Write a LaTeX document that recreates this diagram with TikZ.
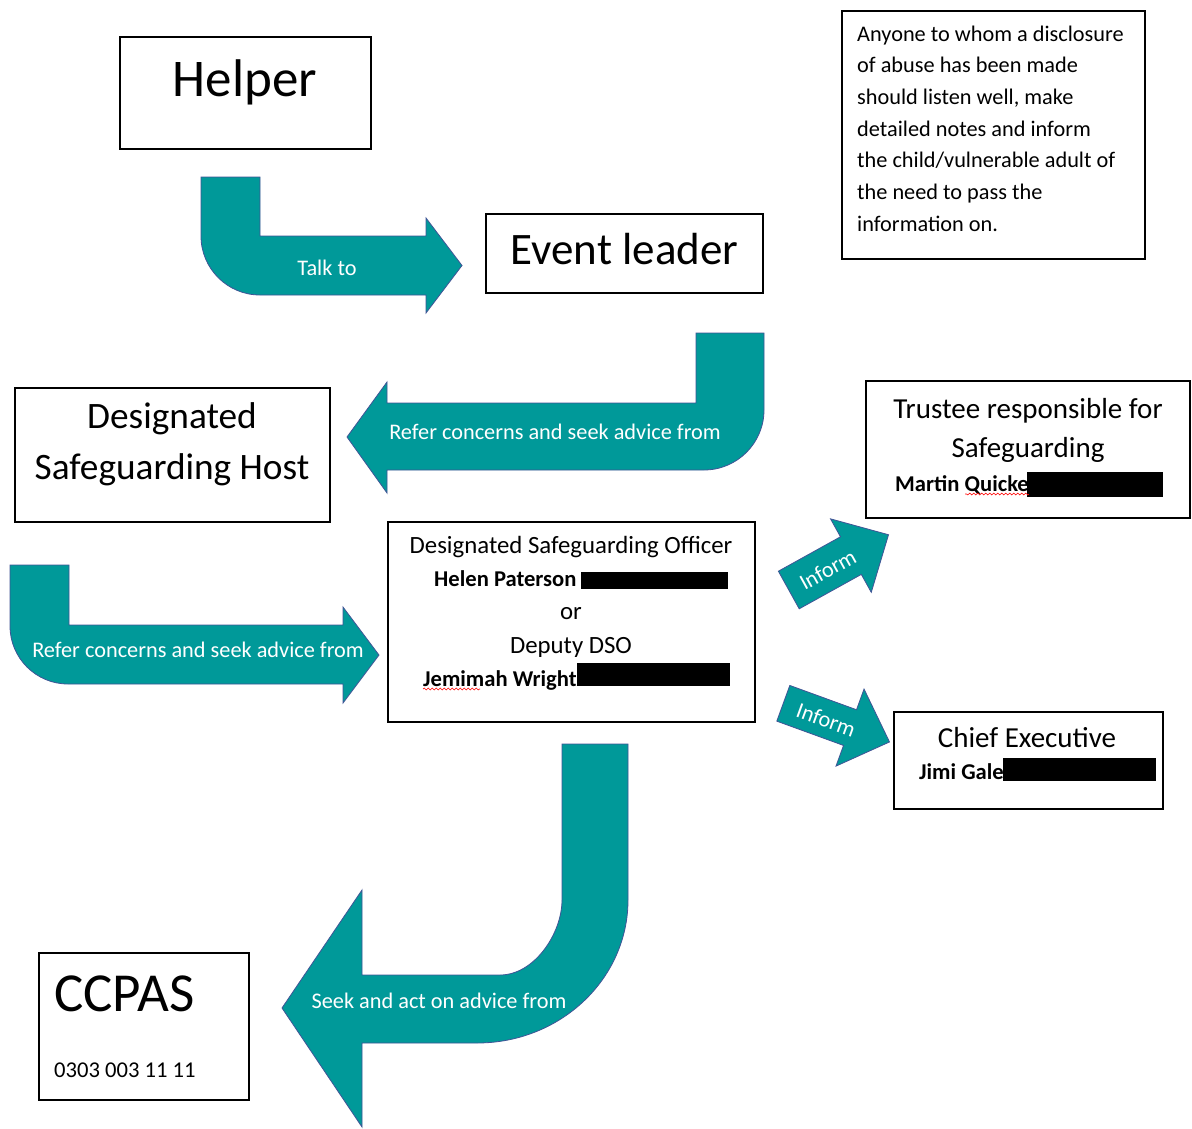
\documentclass[tikz,border=0pt]{standalone}
\usepackage{fontspec}
\setmainfont{Carlito}
\usetikzlibrary{decorations.pathmorphing}
\definecolor{tealfill}{RGB}{0,153,153}
\definecolor{arrowline}{RGB}{64,84,150}
\begin{document}
\begin{tikzpicture}[x=1pt, y={(0pt,-1pt)},
  box/.style={draw=black, line width=1.3pt, inner sep=0pt, fill=white},
  bent/.style={fill=tealfill, draw=arrowline, line width=0.8pt, line join=miter},
  txt/.style={inner sep=0pt, anchor=base},
  txtl/.style={inner sep=0pt, anchor=base west},
  atext/.style={inner sep=0pt, anchor=base, text=white, font=\fontsize{22.3}{26}\selectfont},
  small/.style={font=\fontsize{22.3}{26}\selectfont},
  smallb/.style={font=\fontsize{22.6}{26}\selectfont\bfseries},
  redact/.style={fill=black},
  squiggle/.style={draw=red, line width=0.6pt, decorate, decoration={snake, amplitude=0.9pt, segment length=4pt}}
]
\useasboundingbox (0,0) rectangle (1192,1128);
\fill[white] (0,0) rectangle (1192,1128);

% ---------- bent arrows ----------
% Helper -> Event leader
\draw[bent] (201,177) -- (260,177) -- (260,236) -- (426,236) -- (426,218) -- (462,265.5)
  -- (426,313) -- (426,295) -- (260,295) .. controls (227.4,295) and (201,268.6) .. (201,236) -- cycle;
\node[atext] (talk) at (327,275) {Talk to};

% Event leader -> Designated Safeguarding Host
\draw[bent] (696,333) -- (764,333) -- (764,410) .. controls (764,443.1) and (737.1,470) .. (704,470)
  -- (387,470) -- (387,493) -- (347,437) -- (387,382) -- (387,403) -- (696,403) -- cycle;
\node[atext] (refer1) at (555,439) {Refer concerns and seek advice from};

% Designated Safeguarding Host -> DSO
\draw[bent] (10,565) -- (69,565) -- (69,625) -- (343,625) -- (343,607) -- (379,655)
  -- (343,703) -- (343,684) -- (68,684) .. controls (36,684) and (10,658) .. (10,626) -- cycle;
\node[atext] (refer2) at (198,657) {Refer concerns and seek advice from};

% DSO -> CCPAS
\draw[bent] (562,744) -- (628,744) -- (628,900) .. controls (628,979) and (560.4,1043) .. (477,1043)
  -- (362,1043) -- (362,1127) -- (282,1008) -- (362,890) -- (362,975) -- (500,975)
  .. controls (534.2,975) and (562,933.6) .. (562,900) -- cycle;
\node[atext] (seek) at (439,1008) {Seek and act on advice from};

% Inform arrows
\begin{scope}[shift={(788.8,590)}, rotate=29]
  \draw[bent] (0,-21.5) -- (71,-21.5) -- (71,-42) -- (114,0) -- (71,42) -- (71,21.5) -- (0,21.5) -- cycle;
  \node[inner sep=0pt, text=white, font=\fontsize{22.3}{26}\selectfont, transform shape] (inform1) at (44,1) {Inform};
\end{scope}
\begin{scope}[shift={(783.3,703.3)}, rotate=-20]
  \draw[bent] (0,-19) -- (71,-19) -- (71,-41) -- (113,0) -- (71,41) -- (71,19) -- (0,19) -- cycle;
  \node[inner sep=0pt, text=white, font=\fontsize{22.3}{26}\selectfont, transform shape] (inform2) at (46,1) {Inform};
\end{scope}

% ---------- boxes ----------
\node[box, minimum width=251, minimum height=112] (helper) at (245.5,93) {};
\node[txt, font=\fontsize{53}{60}\selectfont] (helpert) at (245,96) {Helper};

\node[box, minimum width=277, minimum height=79] (event) at (624.5,253.5) {};
\node[txt, font=\fontsize{45}{52}\selectfont] (eventt) at (624.5,264) {Event leader};

\node[box, minimum width=303, minimum height=248] (note) at (993.5,135) {};
\foreach \t [count=\i from 0] in {Anyone to whom a disclosure, of abuse has been made, {should listen well, make}, detailed notes and inform, the child/vulnerable adult of, the need to pass the, information on.}
  \node[txtl, small] (note\i) at (857,41+31.7*\i) {\t};

\node[box, minimum width=315, minimum height=134] (dsh) at (172.5,455) {};
\node[txt, font=\fontsize{37.3}{44}\selectfont] (dsh1) at (172,428) {Designated};
\node[txt, font=\fontsize{37.3}{44}\selectfont] (dsh2) at (172,479) {Safeguarding Host};

\node[box, minimum width=324, minimum height=137] (trustee) at (1028,449.5) {};
\node[txt, font=\fontsize{29}{34}\selectfont] (tr1) at (1028,418) {Trustee responsible for};
\node[txt, font=\fontsize{29}{34}\selectfont] (tr2) at (1028,457) {Safeguarding};
\node[txtl, smallb] (tr3) at (895,491) {Martin Quicke};
\fill[redact] (1027,472) rectangle (1163,497);
\draw[squiggle] ([yshift=-3pt]tr3.base east) -- ++(-64,0);

\node[box, minimum width=367, minimum height=200] (dso) at (571.5,622) {};
\node[txt, font=\fontsize{24.8}{30}\selectfont] (dso1) at (571,553) {Designated Safeguarding Officer};
\node[txtl, smallb] (dso2) at (434,586) {Helen Paterson};
\fill[redact] (581,571.5) rectangle (728,588.5);
\node[txt, font=\fontsize{24.8}{30}\selectfont] (dso3) at (571,619) {or};
\node[txt, font=\fontsize{24.8}{30}\selectfont] (dso4) at (571,653) {Deputy DSO};
\node[txtl, smallb] (dso5) at (423,686) {Jemimah Wright};
\fill[redact] (577,663) rectangle (730,686);
\draw[squiggle] ([yshift=-3pt]dso5.base west) -- ++(57,0);

\node[box, minimum width=269, minimum height=97] (chief) at (1028.5,760.5) {};
\node[txt, font=\fontsize{29}{34}\selectfont] (ch1) at (1027,747) {Chief Executive};
\node[txtl, smallb] (ch2) at (919,779) {Jimi Gale};
\fill[redact] (1003,758) rectangle (1156,781);

\node[box, minimum width=210, minimum height=147] (ccpas) at (144,1026.5) {};
\node[txtl, font=\fontsize{55}{62}\selectfont] (cc1) at (54,1011) {CCPAS};
\node[txtl, font=\fontsize{22.6}{26}\selectfont] (cc2) at (54,1077) {0303 003 11 11};
\end{tikzpicture}
\end{document}
